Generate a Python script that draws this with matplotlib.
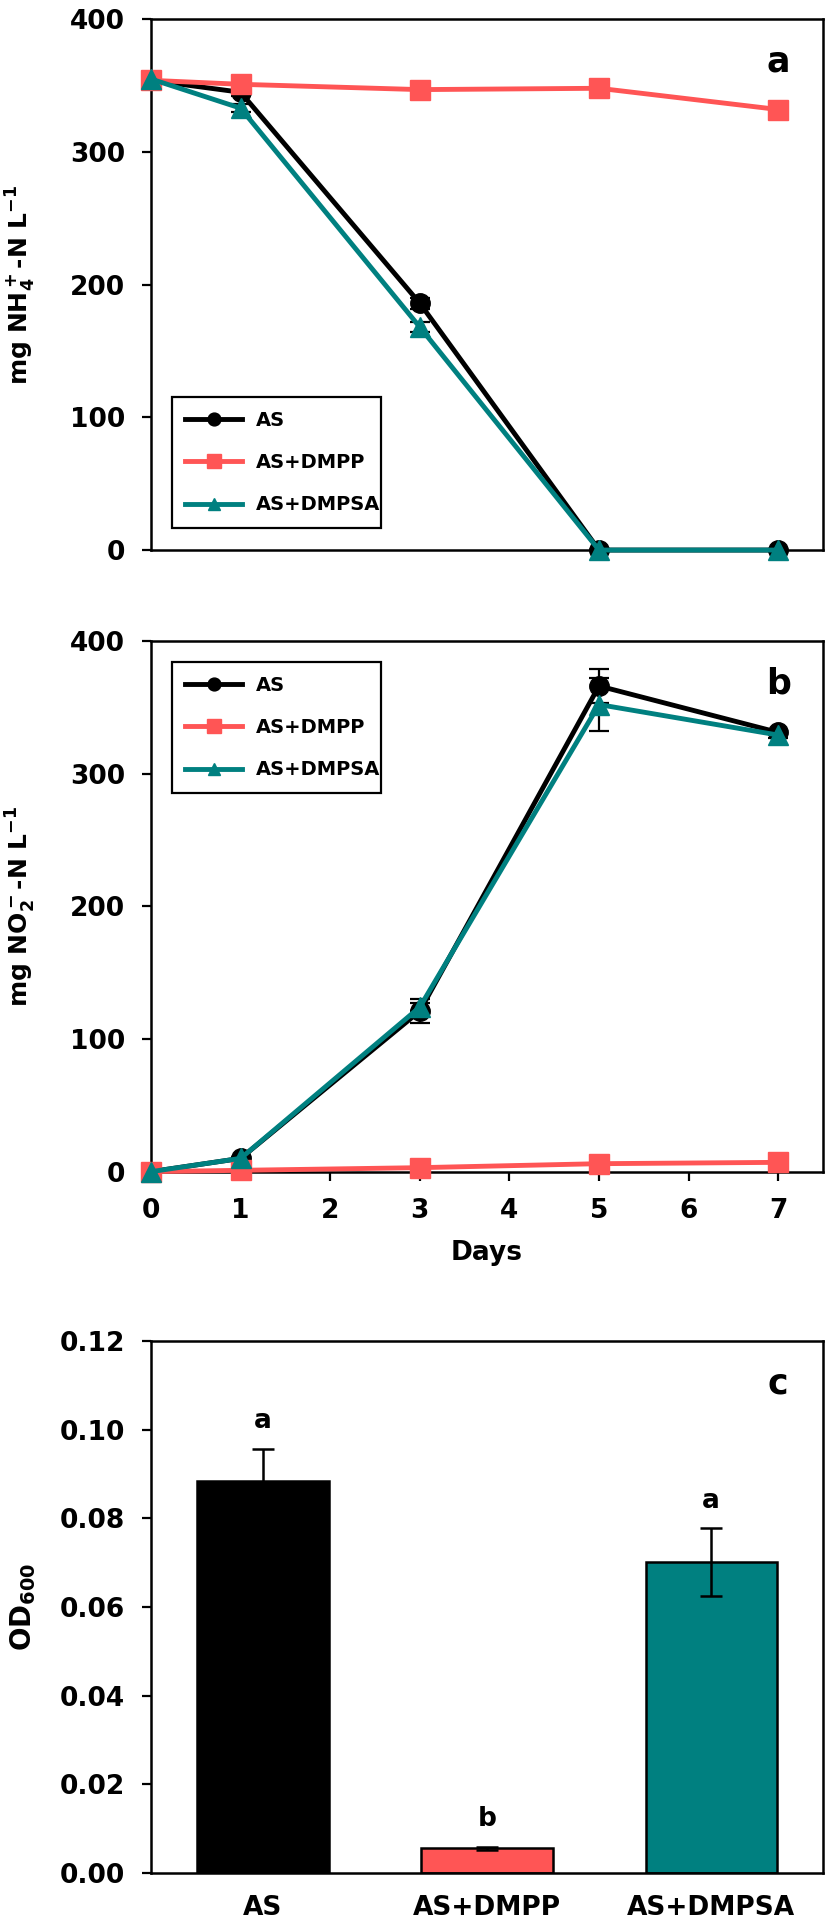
import matplotlib
matplotlib.use("Agg")
import matplotlib.pyplot as plt
from matplotlib.lines import Line2D
import numpy as np

# ---------------- data ----------------
days = [0, 1, 3, 5, 7]
series_names = ["AS", "AS+DMPP", "AS+DMPSA"]

nh4_as = [354, 345, 186, 0, 0]
nh4_as_err = [2, 3, 4, 0, 0]
nh4_dmpp = [354, 351, 347, 348, 332]
nh4_dmpp_err = [2, 2, 2, 2, 2]
nh4_dmpsa = [355, 333, 168, 0, 0]
nh4_dmpsa_err = [2, 3, 4, 0, 0]

no2_as = [0, 10, 121, 366, 331]
no2_as_err = [0, 1, 9, 13, 2]
no2_dmpp = [0, 1, 3, 6, 7]
no2_dmpp_err = [0, 0, 0, 1, 1]
no2_dmpsa = [0, 10, 124, 352, 329]
no2_dmpsa_err = [0, 1, 3, 20, 2]

od_labels = ["AS", "AS+DMPP", "AS+DMPSA"]
od_values = [0.0885, 0.0056, 0.0701]
od_err = [0.0072, 0.0003, 0.0077]
od_letters = ["a", "b", "a"]

# ---------------- style ----------------
BLACK = "#000000"
RED = "#FF5555"
TEAL = "#008080"
colors = [BLACK, RED, TEAL]
markers = ["o", "s", "^"]
msizes = [14, 15, 14]

FONT = ["DejaVu Sans"]
plt.rcParams["font.family"] = FONT
plt.rcParams["font.weight"] = "bold"
plt.rcParams["mathtext.fontset"] = "custom"
plt.rcParams["mathtext.rm"] = "DejaVu Sans:bold"
plt.rcParams["mathtext.it"] = "DejaVu Sans:bold"
plt.rcParams["mathtext.bf"] = "DejaVu Sans:bold"
plt.rcParams["mathtext.default"] = "rm"
plt.rcParams["axes.linewidth"] = 1.8

fig = plt.figure(figsize=(8.27, 19.28), dpi=100)

L, W = 0.1826, 0.8126
H = 0.2753

def style_axes(ax, show_x):
    ax.tick_params(axis="both", direction="out", width=1.6, length=6.8,
                   labelsize=19, pad=12)
    for lab in ax.get_yticklabels() + ax.get_xticklabels():
        lab.set_fontweight("bold")
    if not show_x:
        ax.tick_params(axis="x", length=0, labelbottom=False)

def make_legend(ax, top):
    handles = [Line2D([], [], color=c, marker=m, markersize=ms * 0.66, lw=3.5)
               for c, m, ms in zip(colors, markers, msizes)]
    leg = ax.legend(handles, series_names, loc="upper left",
                    bbox_to_anchor=(0.031, top - 0.243, 0.311, 0.243),
                    mode="expand", fancybox=False, edgecolor=BLACK, framealpha=1,
                    prop={"weight": "bold", "size": 14},
                    handlelength=2.9, handletextpad=0.7, numpoints=1,
                    labelspacing=1.2, borderpad=0.7, borderaxespad=0)
    leg.get_frame().set_linewidth(1.6)

def line_panel(ax, ys, errs, ylabel, letter):
    for y, e, c, m, ms, name in zip(ys, errs, colors, markers, msizes, series_names):
        ax.errorbar(days, y, yerr=e, color=c, marker=m, markersize=ms, lw=3.5,
                    ecolor=BLACK, elinewidth=1.6, capsize=7, capthick=1.6,
                    label=name, clip_on=False, zorder=3)
    ax.set_xlim(0, 7.5)
    ax.set_ylim(0, 400)
    ax.set_yticks([0, 100, 200, 300, 400])
    ax.set_xticks([0, 1, 2, 3, 4, 5, 6, 7])
    ax.set_ylabel(ylabel, fontsize=18, fontweight="bold")
    ax.yaxis.set_label_coords(-0.168, 0.5)
    ax.text(7.0, 368, letter, fontsize=25, fontweight="bold",
            ha="center", va="center")

# panel a
axa = fig.add_axes([L, 0.7147, W, H])
line_panel(axa, [nh4_as, nh4_dmpp, nh4_dmpsa],
           [nh4_as_err, nh4_dmpp_err, nh4_dmpsa_err],
           r"mg NH$_4^+$-N L$^{-1}$", "a")
style_axes(axa, show_x=False)
make_legend(axa, 0.288)

# panel b
axb = fig.add_axes([L, 0.3923, W, H])
line_panel(axb, [no2_as, no2_dmpp, no2_dmpsa],
           [no2_as_err, no2_dmpp_err, no2_dmpsa_err],
           r"mg NO$_2^-$-N L$^{-1}$", "b")
style_axes(axb, show_x=True)
axb.set_xlabel("Days", fontsize=19, fontweight="bold", labelpad=12)
make_legend(axb, 0.960)

# panel c
axc = fig.add_axes([L, 0.0285, W, 0.2759])
xpos = np.arange(len(od_labels))
axc.bar(xpos, od_values, width=0.585, color=colors, edgecolor=BLACK, linewidth=1.8,
        zorder=2)
axc.errorbar(xpos, od_values, yerr=od_err, fmt="none", ecolor=BLACK,
             elinewidth=1.8, capsize=8, capthick=1.8, zorder=3)
for x, v, e, l in zip(xpos, od_values, od_err, od_letters):
    axc.text(x, v + e + 0.0062, l, ha="center", va="center", fontsize=19,
             fontweight="bold")
axc.set_xlim(-0.5, 2.5)
axc.set_ylim(0, 0.12)
axc.set_yticks([0.00, 0.02, 0.04, 0.06, 0.08, 0.10, 0.12])
axc.set_yticklabels(["0.00", "0.02", "0.04", "0.06", "0.08", "0.10", "0.12"])
axc.set_xticks(xpos)
axc.set_xticklabels(od_labels)
style_axes(axc, show_x=True)
axc.tick_params(axis="x", length=0, pad=16)
axc.set_ylabel(r"OD$_{600}$", fontsize=20, fontweight="bold")
axc.yaxis.set_label_coords(-0.168, 0.5)
axc.text(2.3, 0.1105, "c", fontsize=25, fontweight="bold",
         ha="center", va="center")

fig.savefig("out.png", dpi=100)
